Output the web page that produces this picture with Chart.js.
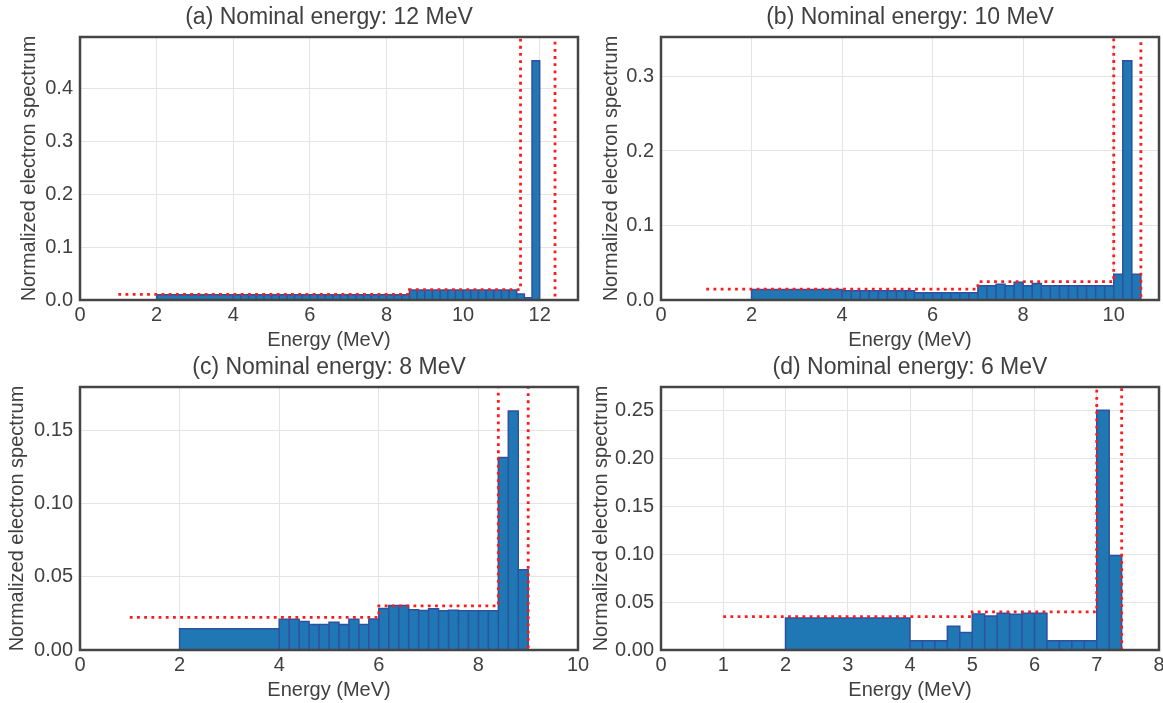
<!DOCTYPE html>
<html>
<head>
<meta charset="utf-8">
<script src="https://cdn.jsdelivr.net/npm/chart.js@4.4.1/dist/chart.umd.min.js"></script>
<style>
  html, body { margin: 0; padding: 0; background: #fff; overflow: hidden; }
  #wrap { position: relative; width: 1163px; height: 703px; overflow: hidden; background: #fff; }
  #wrap canvas { position: absolute; }
</style>
</head>
<body>
<div id="wrap">
  <canvas id="chartA" width="658" height="355" style="left:0px;top:0px"></canvas>
  <canvas id="chartB" width="658" height="355" style="left:581px;top:0px"></canvas>
  <canvas id="chartC" width="658" height="355" style="left:0px;top:350px"></canvas>
  <canvas id="chartD" width="658" height="355" style="left:581px;top:350px"></canvas>
</div>
<script>
// (a) 12 MeV
const edgesA = [2, 4, 4.2, 4.4, 4.6, 4.8, 5, 5.2, 5.4, 5.6, 5.8, 6, 6.2, 6.4, 6.6, 6.8, 7, 7.2, 7.4, 7.6, 7.8, 8, 8.2, 8.4, 8.6,
  8.8, 9, 9.2, 9.4, 9.6, 9.8, 10, 10.2, 10.4, 10.6, 10.8, 11, 11.2, 11.4, 11.6, 11.8, 12];
const specA = [0.010, 0.010, 0.010, 0.010, 0.010, 0.010, 0.010, 0.010, 0.010, 0.010, 0.010, 0.010, 0.010, 0.010, 0.010, 0.010,
  0.010, 0.010, 0.010, 0.010, 0.010, 0.010, 0.010, 0.010,
  0.019, 0.019, 0.019, 0.019, 0.019, 0.019, 0.019, 0.019, 0.019, 0.019, 0.019, 0.019, 0.019, 0.019,
  0.0114, 0.0044, 0.452];
const refXA = [1, 8.6, 8.6, 11.5, 11.5, 12.4, 12.4];
const refYA = [0.0105, 0.0105, 0.0195, 0.0195, 1, 1, 0];

// (b) 10 MeV
const edgesB = [2, 4, 4.2, 4.4, 4.6, 4.8, 5, 5.2, 5.4, 5.6, 5.8, 6, 6.2, 6.4, 6.6, 6.8, 7, 7.2, 7.4, 7.6, 7.8, 8, 8.2, 8.4, 8.6,
  8.8, 9, 9.2, 9.4, 9.6, 9.8, 10, 10.2, 10.4, 10.6];
const specB = [0.0140,
  0.0125, 0.0125, 0.0125, 0.0125, 0.0125, 0.0125, 0.0125, 0.0125,
  0.0098, 0.0098, 0.0098, 0.0098, 0.0098, 0.0098, 0.0098,
  0.0192, 0.0192, 0.0210, 0.0192, 0.0238, 0.0192, 0.0223, 0.0192, 0.0192, 0.0192, 0.0192, 0.0192, 0.0192, 0.0192, 0.0192,
  0.0344, 0.321, 0.0344];
const refXB = [1, 7, 7, 10, 10, 10.6, 10.6];
const refYB = [0.0147, 0.0147, 0.0246, 0.0246, 1, 1, 0];

// (c) 8 MeV
const edgesC = [2, 4, 4.2, 4.4, 4.6, 4.8, 5, 5.2, 5.4, 5.6, 5.8, 6, 6.2, 6.4, 6.6, 6.8, 7, 7.2, 7.4, 7.6, 7.8, 8, 8.2, 8.4,
  8.6, 8.8, 9];
const specC = [0.0145,
  0.0211, 0.0210, 0.0195, 0.0175, 0.0175, 0.0190, 0.0175, 0.0210, 0.0175, 0.0212,
  0.0284, 0.0305, 0.0305, 0.0275, 0.0270, 0.0282, 0.0268, 0.0272, 0.0268, 0.0268, 0.0268, 0.0268,
  0.1318, 0.1636, 0.0550];
const refXC = [1, 6, 6, 8.4, 8.4, 9, 9];
const refYC = [0.0223, 0.0223, 0.0302, 0.0302, 1, 1, 0];

// (d) 6 MeV
const edgesD = [2, 4, 4.2, 4.4, 4.6, 4.8, 5, 5.2, 5.4, 5.6, 5.8, 6, 6.2, 6.4, 6.6, 6.8, 7, 7.2, 7.4];
const specD = [0.0335,
  0.0098, 0.0098, 0.0098, 0.0248, 0.0182, 0.0377, 0.0356, 0.0384, 0.0374, 0.0384, 0.0384,
  0.0098, 0.0098, 0.0098, 0.0098, 0.2507, 0.0988];
const refXD = [1, 5, 5, 7, 7, 7.4, 7.4];
const refYD = [0.0349, 0.0349, 0.0398, 0.0398, 1, 1, 0];

const titles = ['(a) Nominal energy: 12 MeV', '(b) Nominal energy: 10 MeV', '(c) Nominal energy: 8 MeV', '(d) Nominal energy: 6 MeV'];
const xMax = [13, 11, 10, 8];
const xStep = [2, 2, 2, 1];
const yMax = [0.497, 0.353, 0.18, 0.275];
const yStep = [0.1, 0.1, 0.05, 0.05];
const yDecimals = [1, 1, 2, 2];

const FONT = '"Liberation Sans", Arial, sans-serif';
const TEXT = '#404040';

// outline of the histogram bars, one closed step per bin
function barPath(edges, values) {
  const pts = [];
  for (let i = 0; i < values.length; i++) {
    pts.push({x: edges[i], y: 0}, {x: edges[i], y: values[i]},
             {x: edges[i + 1], y: values[i]}, {x: edges[i + 1], y: 0});
  }
  return pts;
}

const framePlugin = {
  id: 'frame',
  afterDatasetsDraw(chart) {
    const {ctx, chartArea: a} = chart;
    ctx.save();
    ctx.strokeStyle = '#454545';
    ctx.lineWidth = 2.5;
    ctx.strokeRect(a.left, a.top, a.right - a.left, a.bottom - a.top);
    ctx.restore();
  }
};

function makeChart(id, i, edges, spec, refX, refY, ylabPad) {
  new Chart(document.getElementById(id), {
    type: 'scatter',
    data: {
      datasets: [
        {
          data: refX.map((x, k) => ({x: x, y: refY[k]})),
          showLine: true,
          borderColor: '#ff1a1a',
          borderWidth: 2.8,
          borderDash: [2.8, 4.4],
          borderCapStyle: 'butt',
          pointRadius: 0,
          fill: false,
          order: 0
        },
        {
          data: barPath(edges, spec),
          showLine: true,
          borderColor: '#3050a0',
          borderWidth: 1.5,
          borderJoinStyle: 'miter',
          backgroundColor: '#1f77b4',
          fill: 'origin',
          pointRadius: 0,
          order: 1
        }
      ]
    },
    options: {
      responsive: false,
      animation: false,
      devicePixelRatio: 1,
      layout: { padding: 0 },
      plugins: {
        legend: { display: false },
        tooltip: { enabled: false },
        title: {
          display: true,
          text: titles[i],
          color: TEXT,
          font: { family: FONT, size: 23, weight: 'normal' },
          padding: { top: 4.2, bottom: 5.2 }
        }
      },
      scales: {
        x: {
          type: 'linear',
          min: 0,
          max: xMax[i],
          afterFit: s => { s.height = 55; },
          border: { display: false },
          grid: { color: '#e4e4e4', lineWidth: 1, drawTicks: false },
          ticks: {
            stepSize: xStep[i],
            includeBounds: false,
            padding: 3,
            color: TEXT,
            font: { family: FONT, size: 20 },
            maxRotation: 0
          },
          title: {
            display: true,
            text: 'Energy (MeV)',
            color: TEXT,
            font: { family: FONT, size: 20 },
            padding: { top: 0, bottom: 3 }
          }
        },
        y: {
          type: 'linear',
          min: 0,
          max: yMax[i],
          afterFit: s => { s.width = 80; },
          border: { display: false },
          grid: { color: '#e4e4e4', lineWidth: 1, drawTicks: false },
          ticks: {
            stepSize: yStep[i],
            includeBounds: false,
            padding: 7,
            color: TEXT,
            font: { family: FONT, size: 20 },
            callback: v => v.toFixed(yDecimals[i])
          },
          title: {
            display: true,
            text: 'Normalized electron spectrum',
            color: TEXT,
            font: { family: FONT, size: 20 },
            padding: { top: ylabPad, bottom: 0 }
          }
        },
        // empty right axis, keeps the plot centred under its title
        yR: {
          type: 'linear',
          position: 'right',
          afterFit: s => { s.width = 80; },
          border: { display: false },
          grid: { display: false },
          ticks: { display: false }
        }
      }
    },
    plugins: [framePlugin]
  });
}

makeChart('chartA', 0, edgesA, specA, refXA, refYA, 17);
makeChart('chartB', 1, edgesB, specB, refXB, refYB, 18);
makeChart('chartC', 2, edgesC, specC, refXC, refYC, 5);
makeChart('chartD', 3, edgesD, specD, refXD, refYD, 8);
</script>
</body>
</html>
